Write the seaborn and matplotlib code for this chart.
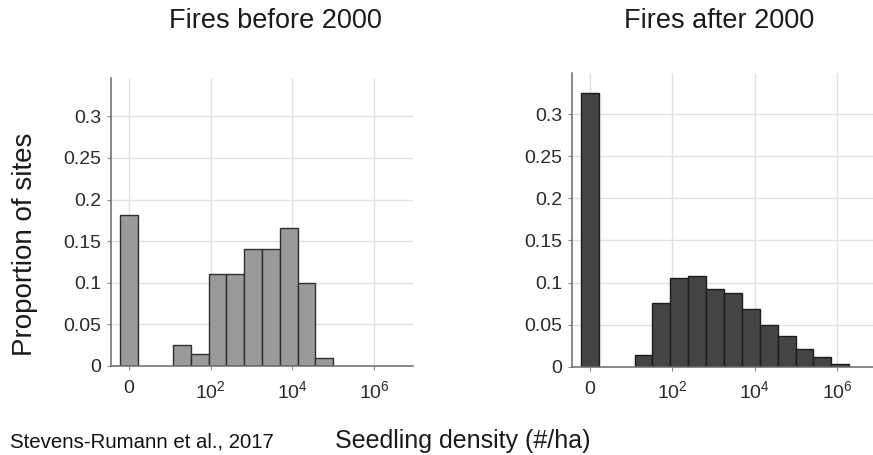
import numpy as np
import pandas as pd
import matplotlib
matplotlib.use("Agg")
import matplotlib.pyplot as plt
import seaborn as sns

# ---- data (x in natural-log units of seedling density; 0 = no seedlings) ----
zero_center = [0]
before_zero = [0.181]
before_centers = [3, 4, 5, 6, 7, 8, 9, 10, 11]
before_props = [0.025, 0.015, 0.110, 0.110, 0.141, 0.141, 0.166, 0.100, 0.010]

after_zero = [0.325]
after_centers = [3, 4, 5, 6, 7, 8, 9, 10, 11, 12, 13, 14]
after_props = [0.014, 0.076, 0.105, 0.108, 0.092, 0.088, 0.069, 0.049, 0.036,
               0.021, 0.011, 0.003]

tick_values = [0, 1e2, 1e4, 1e6]
tick_labels = ["0", r"$\mathregular{10^2}$", r"$\mathregular{10^4}$", r"$\mathregular{10^6}$"]
y_ticks = [0, 0.05, 0.1, 0.15, 0.2, 0.25, 0.3]
y_tick_labels = ["0", "0.05", "0.1", "0.15", "0.2", "0.25", "0.3"]

titles = ["Fires before 2000", "Fires after 2000"]

sns.set_style("whitegrid")
plt.rcParams["font.family"] = ["Liberation Sans", "DejaVu Sans"]
plt.rcParams["mathtext.fontset"] = "custom"
plt.rcParams["mathtext.rm"] = "Liberation Sans"

fig = plt.figure(figsize=(8.73, 4.55), dpi=100)
ax1 = fig.add_axes([111 / 873, (455 - 366) / 455, 302 / 873, 288 / 455])
ax2 = fig.add_axes([572 / 873, (455 - 366.7) / 455, 304 / 873, 293.7 / 455])

panels = [
    (ax1, before_zero, before_centers, before_props, "#9a9a9a", "#2e2e2e", 0.346),
    (ax2, after_zero, after_centers, after_props, "#454545", "#1c1c1c", 0.349),
]

tick_pos = [0 if v == 0 else np.log(v) for v in tick_values]

for ax, z, centers, props, fc, ec, ytop in panels:
    df0 = pd.DataFrame({"x": zero_center, "w": z})
    df1 = pd.DataFrame({"x": centers, "w": props})
    for d in (df0, df1):
        sns.histplot(data=d, x="x", weights="w", discrete=True, shrink=1,
                     color=fc, edgecolor=ec, linewidth=1.0, alpha=1, ax=ax)
    ax.set_xlim(-1.0, 16.0)
    ax.set_ylim(0, ytop)
    ax.set_xticks(tick_pos)
    ax.set_xticklabels(tick_labels)
    ax.set_yticks(y_ticks)
    ax.set_yticklabels(y_tick_labels)
    ax.set_xlabel("")
    ax.set_ylabel("")
    ax.grid(True, color="#e2e2e2", linewidth=1.0)
    ax.set_axisbelow(True)
    for s in ("top", "right"):
        ax.spines[s].set_visible(False)
    for s in ("left", "bottom"):
        ax.spines[s].set_visible(True)
        ax.spines[s].set_color("#6a6a6a")
        ax.spines[s].set_linewidth(1.1)
    ax.tick_params(axis="both", which="both", length=3, width=0.8,
                   color="#888888", labelsize=14, labelcolor="#2a2a2a",
                   left=True, bottom=True)
    ax.tick_params(axis="y", pad=4)
    ax.tick_params(axis="x", pad=7)

fig.text(275 / 873, (455 - 28.3) / 455, titles[0], ha="center", va="baseline",
         fontsize=19.5, color="#1a1a1a")
fig.text(719 / 873, (455 - 28.3) / 455, titles[1], ha="center", va="baseline",
         fontsize=19.5, color="#1a1a1a")
fig.text(25 / 873, (455 - 244) / 455, "Proportion of sites", rotation=90,
         ha="center", va="center", fontsize=20, color="#1a1a1a")
fig.text(463 / 873, (455 - 448) / 455, "Seedling density (#/ha)", ha="center",
         va="baseline", fontsize=18, color="#1a1a1a")
fig.text(10 / 873, (455 - 447) / 455, "Stevens-Rumann et al., 2017", ha="left",
         va="baseline", fontsize=14.7, color="#111111")

fig.savefig("out.png", dpi=100, facecolor="white")
